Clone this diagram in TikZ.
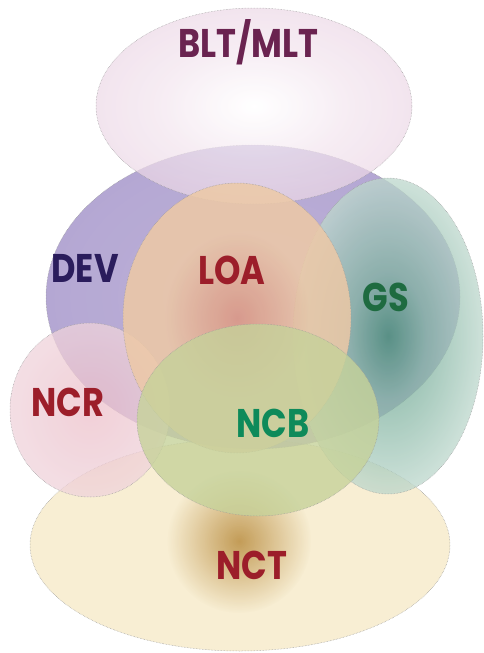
\documentclass[tikz,border=0pt]{standalone}
\usepackage{fontspec}
\usetikzlibrary{fadings}
\setmainfont{Poppins}
\definecolor{bltfill}{HTML}{EAD3E3}
\definecolor{bltmid}{HTML}{FFFFFF}
\definecolor{devfill}{HTML}{9B8AC4}
\definecolor{devmid}{HTML}{A897CC}
\definecolor{loafill}{HTML}{EDC9A6}
\definecolor{loamid}{HTML}{DC9680}
\definecolor{gsfill}{HTML}{D2E4DC}
\definecolor{gsmid}{HTML}{3A886C}
\definecolor{ncrfill}{HTML}{EFD3DB}
\definecolor{ncrmid}{HTML}{EDC0CA}
\definecolor{ncbfill}{HTML}{C6D29A}
\definecolor{nctfill}{HTML}{F5E8C4}
\definecolor{nctmid}{HTML}{BA8E42}
\definecolor{bltink}{HTML}{6A2350}
\definecolor{devink}{HTML}{2A1C5C}
\definecolor{redink}{HTML}{9C1E2A}
\definecolor{gsink}{HTML}{1E6B40}
\definecolor{ncbink}{HTML}{0E8A5A}
% bright or dark spots in the middle of the sets
\tikzfading[name=spot fade, inner color=transparent!0, outer color=transparent!100]
\pgfdeclareradialshading{gsspot}{\pgfpoint{0bp}{0bp}}{color(0bp)=(gsmid);
  color(10bp)=(gsmid!55!gsfill); color(30bp)=(gsfill); color(50bp)=(gsfill)}
\pgfdeclareradialshading{loaspot}{\pgfpoint{0bp}{0bp}}{color(0bp)=(loamid);
  color(16bp)=(loafill); color(50bp)=(loafill)}
\pgfdeclareradialshading{bltspot}{\pgfpoint{0bp}{0bp}}{color(0bp)=(bltmid);
  color(15bp)=(bltfill!60!bltmid); color(30bp)=(bltfill); color(50bp)=(bltfill)}
\pgfdeclareradialshading{ncrspot}{\pgfpoint{0bp}{0bp}}{color(0bp)=(ncrmid);
  color(25bp)=(ncrfill); color(50bp)=(ncrfill)}
\begin{document}
\begin{tikzpicture}[y=1pt, x=1pt, yscale=-1, inner sep=0pt, outer sep=0pt,
    ring/.style={draw=gray!80, line width=0.5pt, densely dotted, fill opacity=0.75},
    lbl/.style={font=\fontsize{40}{40}\selectfont\bfseries}]
\useasboundingbox (0,0) rectangle (484,653);
    \path[ring, fill=nctfill]
      (240,545) ellipse [x radius=210, y radius=106];
    \fill[nctmid, path fading=spot fade, fill opacity=0.85]
      (239,541) circle (72);
    \path[ring, inner color=devmid, outer color=devfill]
      (253,297) ellipse [x radius=207, y radius=152];
    \path[ring, shade, shading=bltspot, fill opacity=0.7]
      (254,106) ellipse [x radius=158, y radius=98];
    \path[ring, shade, shading=ncrspot]
      (90,410) ellipse [x radius=80, y radius=87];
    \path[ring, shade, shading=gsspot]
      (388,336) ellipse [x radius=95, y radius=158];
    \path[ring, shade, shading=loaspot, fill opacity=0.85]
      (237,318) ellipse [x radius=114, y radius=135];
    \path[ring, fill=ncbfill, fill opacity=0.8]
      (258,420) ellipse [x radius=121, y radius=96];
    \path (248,42) node[lbl, text=bltink] (text-blt) {\scalebox{0.84}[1]{BLT/MLT}};
    \path (85,268) node[lbl, text=devink] (text-dev) {\scalebox{0.84}[1]{DEV}};
    \path (232,270) node[lbl, text=redink] (text-loa) {\scalebox{0.84}[1]{LOA}};
    \path (386,297) node[lbl, text=gsink] (text-gs) {\scalebox{0.84}[1]{GS}};
    \path (68,402) node[lbl, text=redink] (text-ncr) {\scalebox{0.84}[1]{NCR}};
    \path (273,423) node[lbl, text=ncbink] (text-ncb) {\scalebox{0.84}[1]{NCB}};
    \path (252,565) node[lbl, text=redink] (text-nct) {\scalebox{0.84}[1]{NCT}};
\end{tikzpicture}
\end{document}
